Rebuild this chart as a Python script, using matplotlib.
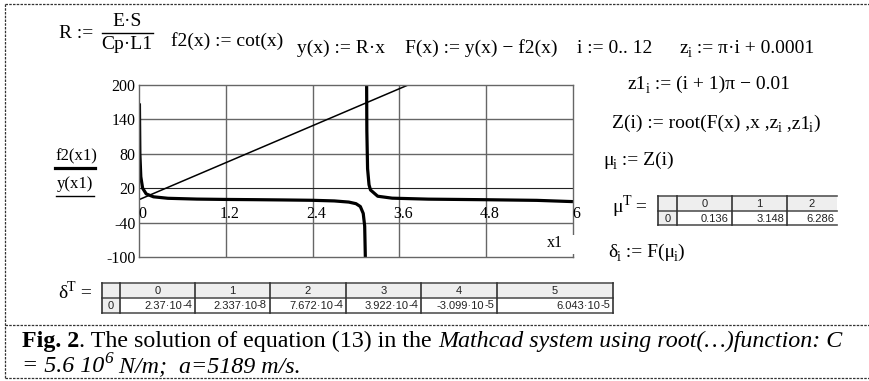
import matplotlib
matplotlib.use("Agg")
import matplotlib.pyplot as plt
from matplotlib.patches import Rectangle

SERIF = "Liberation Serif"
SANS = "Liberation Sans"

# ---- values ----
x_ticks = [0, 1.2, 2.4, 3.6, 4.8, 6]
x_tick_labels = ["0", "1.2", "2.4", "3.6", "4.8", "6"]
y_ticks = [-100, -40, 20, 80, 140, 200]

# f2(x1) = cot(x1), two branches
f2_x_a = [0.006, 0.012, 0.025, 0.05, 0.1, 0.2, 0.4, 0.8, 1.2, 1.6, 2.0,
          2.4, 2.7, 2.9, 3.0, 3.06, 3.1, 3.12, 3.134]
f2_y_a = [168, 80, 40, 20, 10, 5, 2.4, 1, 0.4, 0, -0.5,
          -1.1, -2.2, -4.2, -7, -12, -24, -46, -130]
f2_x_b = [3.143, 3.15, 3.16, 3.18, 3.2, 3.3, 3.5, 4.0, 4.8, 5.5, 6.0]
f2_y_b = [300, 120, 54, 26, 17, 6, 2.6, 0.9, -0.1, -1.2, -3.4]

# y(x1) = R*x1
y_x = [0, 3.72]
y_y = [0, 200]

mu_cols = ["0", "1", "2"]
mu_vals = ["0.136", "3.148", "6.286"]
delta_cols = ["0", "1", "2", "3", "4", "5"]
delta_mant = ["2.37", "2.337", "7.672", "3.922", "-3.099", "6.043"]
delta_exp = ["-4", "-8", "-4", "-4", "-5", "-5"]

fig = plt.figure(figsize=(8.7, 3.81), dpi=100)
bg = fig.add_axes([0, 0, 1, 1])
bg.set_xlim(0, 870)
bg.set_ylim(381, 0)
bg.axis("off")
r = fig.canvas.get_renderer()


def width(s, **kw):
    t = bg.text(0, 0, s + "|", **kw)
    a = t.get_window_extent(r).width
    t.set_text("|")
    b = t.get_window_extent(r).width
    t.remove()
    return a - b


def run(x, y, parts, size=14):
    for p in parts:
        s, kind = p[0], p[1]
        extra = p[2] if len(p) > 2 else {}
        fs = size * 0.72 if kind else size
        dy = {"": 0, "sub": size * 0.3, "sup": -size * 0.5}[kind]
        if kind == "sub":
            x -= 0.6
        st = dict(family=SERIF, fontsize=fs, **extra)
        bg.text(x, y + dy, s, va="baseline", ha="left", **st)
        x += width(s, **st)
    return x


# ---- dashed frame ----
dash = dict(color="#333333", lw=0.9, ls=(0, (2, 1)))
bg.plot([5, 870], [4, 4], **dash)
bg.plot([5, 5], [4, 378], **dash)
bg.plot([5, 870], [325, 325], **dash)
bg.plot([5, 870], [378, 378], **dash)

# ---- formulas ----
run(59, 38, [("R :=", "")])
bg.text(127, 26, "E·S", family=SERIF, fontsize=14, ha="center", va="baseline")
bg.plot([102, 153], [33, 33], color="black", lw=1)
bg.text(127, 49, "Cp·L1", family=SERIF, fontsize=14, ha="center", va="baseline")
run(171, 46, [("f2(x) := cot(x)", "")])
run(297, 53, [("y(x) := R·x", "")])
run(405, 53, [("F(x) := y(x) − f2(x)", "")])
run(577, 53, [("i := 0.. 12", "")])
run(680, 53, [("z", ""), ("i", "sub"), (" := π·i + 0.0001", "")])
run(628, 89, [("z1", ""), ("i", "sub"), (" := (i + 1)π − 0.01", "")])
run(612, 128, [("Z(i) := root(F(x) ,x ,z", ""), ("i", "sub"), (" ,z1", ""),
               ("i", "sub"), (")", "")])
run(603, 165, [("μ", ""), ("i", "sub"), (" := Z(i)", "")])
run(612, 212, [("μ", ""), ("T", "sup"), (" =", "")])
run(608, 257, [("δ", ""), ("i", "sub"), (" := F(μ", ""), ("i", "sub"), (")", "")])
run(58, 298, [("δ", ""), ("T", "sup"), (" =", "")])


# ---- tables ----
def table(x_edges, ys, cols, vals, exps=None, right_open=False):
    x0, x1 = x_edges[0], x_edges[-1]
    bg.add_patch(Rectangle((x0, ys[0]), x1 - x0, ys[1] - ys[0],
                           facecolor="#eeeeee", edgecolor="none"))
    bg.add_patch(Rectangle((x0, ys[1]), x_edges[1] - x0, ys[2] - ys[1],
                           facecolor="#eeeeee", edgecolor="none"))
    for yy in ys:
        bg.plot([x0, x1], [yy, yy], color="#555555", lw=1.2)
    edges = x_edges[:-1] if right_open else x_edges
    for xx in edges:
        bg.plot([xx, xx], [ys[0], ys[2]], color="#333333", lw=1.2)
    tk = dict(family=SANS, fontsize=8, color="#222222")
    bg.text((x0 + x_edges[1]) / 2, (ys[1] + ys[2]) / 2 + 0.5, "0",
            ha="center", va="center", **tk)
    for k, c in enumerate(cols):
        xa, xb = x_edges[k + 1], x_edges[k + 2]
        bg.text((xa + xb) / 2, (ys[0] + ys[1]) / 2 + 0.5, c,
                ha="center", va="center", **tk)
        if exps is None:
            bg.text(xb - 3, (ys[1] + ys[2]) / 2 + 0.5, vals[k],
                    ha="right", va="center", **tk)
        else:
            ew = width(exps[k], **tk)
            bg.text(xb - 3, (ys[1] + ys[2]) / 2 - 0.5, exps[k],
                    ha="right", va="center", **tk)
            bg.text(xb - 3 - ew, (ys[1] + ys[2]) / 2 + 0.5, vals[k] + "·10",
                    ha="right", va="center", **tk)


table([658, 677, 732, 787, 837], [196, 211, 225], mu_cols, mu_vals,
      right_open=True)
table([102, 120, 195, 270, 346, 421, 497, 613], [283, 298, 313],
      delta_cols, delta_mant, exps=delta_exp)

# ---- caption ----
run(22, 347, [("Fig. 2", "", dict(weight="bold")),
              (". The solution of equation (13) in the ", ""),
              ("Mathcad system using root(…)function: C", "", dict(style="italic"))],
    size=17.3)
run(22, 372, [("= 5.6 10", "", dict(style="italic")),
              ("6", "sup", dict(style="italic")),
              (" N/m;  a=5189 m/s.", "", dict(style="italic"))], size=17.3)

# ---- plot ----
ax = fig.add_axes([139 / 870, (381 - 257) / 381, 434 / 870, 172 / 381])
ax.set_xlim(0, 6)
ax.set_ylim(-100, 200)
ax.plot(y_x, y_y, color="black", lw=1.1)
ax.plot(f2_x_a, f2_y_a, color="black", lw=2.3, solid_capstyle="butt")
ax.plot(f2_x_b, f2_y_b, color="black", lw=2.3, solid_capstyle="butt")
for xv in x_ticks[1:-1]:
    ax.axvline(xv, color="#666666", lw=1, zorder=0)
for yv in y_ticks[1:-1]:
    ax.axhline(yv, color="#222222" if yv == 20 else "#666666",
               lw=0.8 if yv == 20 else 1, zorder=0)
for s in ax.spines.values():
    s.set_color("#666666")
    s.set_linewidth(1)
ax.set_xticks([])
ax.set_yticks(y_ticks)
ax.set_yticklabels([str(v) for v in y_ticks], family=SERIF, fontsize=11.5)
ax.tick_params(axis="y", length=0, pad=2.5)
for xv, lab in zip(x_ticks, x_tick_labels):
    ax.annotate(lab, (xv, 0), xytext=(2.4, -10), textcoords="offset points",
                ha="center", va="center", family=SERIF, fontsize=11.5)
ax.add_patch(Rectangle((0.985, 0.02), 0.03, 0.11, transform=ax.transAxes,
                       facecolor="white", edgecolor="none", clip_on=False,
                       zorder=5))
ax.text(0.958, 0.081, "x1", transform=ax.transAxes, ha="center", va="center",
        family=SERIF, fontsize=11.5, zorder=6)

# y-axis legend labels
bg.text(76, 160, "f2(x1)", family=SERIF, fontsize=12, ha="center", va="baseline")
bg.plot([55, 95], [168, 168], color="black", lw=2.3)
bg.text(75, 188, "y(x1)", family=SERIF, fontsize=12, ha="center", va="baseline")
bg.plot([56, 94], [196, 196], color="black", lw=1)

fig.savefig("out.png", dpi=100)
